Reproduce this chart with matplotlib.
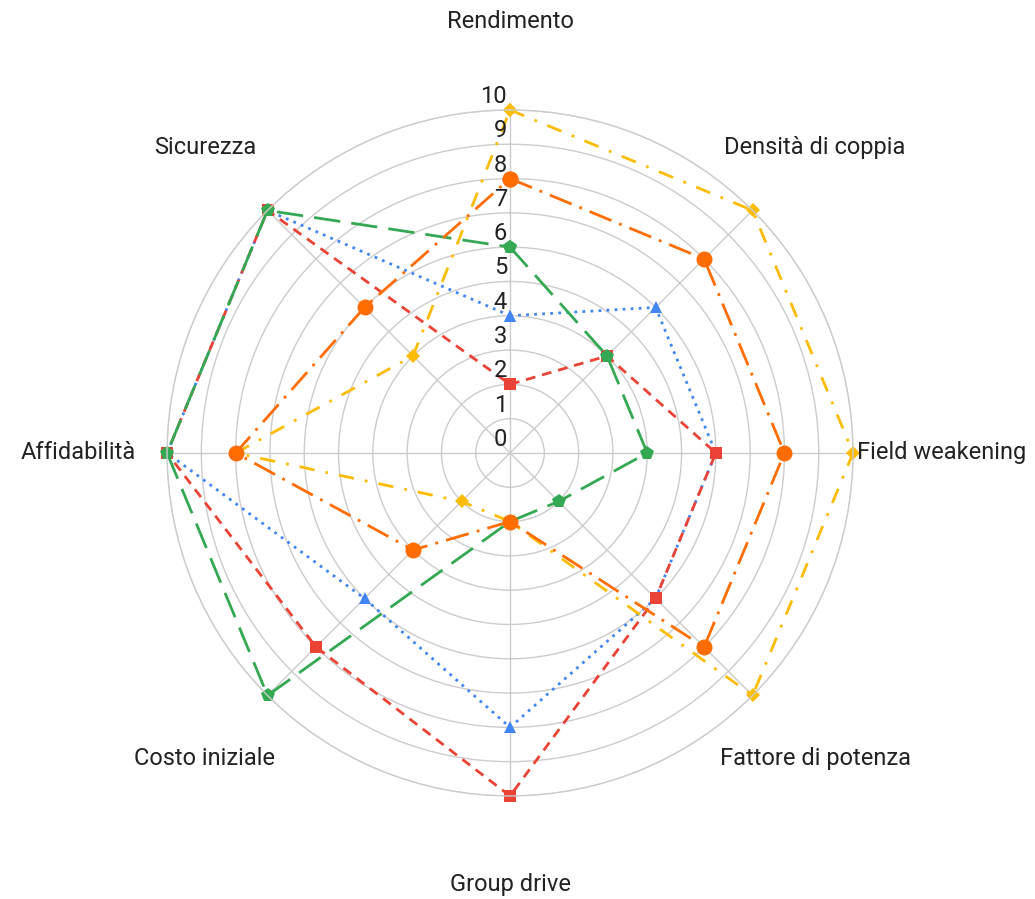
import numpy as np
import matplotlib
matplotlib.use("Agg")
import matplotlib.pyplot as plt
from matplotlib.transforms import offset_copy

plt.rcParams['font.family'] = ['Roboto', 'DejaVu Sans']
plt.rcParams['lines.scale_dashes'] = False

categories = ["Rendimento", "Densità di coppia", "Field weakening", "Fattore di potenza",
              "Group drive", "Costo iniziale", "Affidabilità", "Sicurezza"]

serie_blu = [4, 6, 6, 6, 8, 6, 10, 10]
serie_rossa = [2, 4, 6, 6, 10, 8, 10, 10]
serie_gialla = [10, 10, 10, 10, 2, 2, 8, 4]
serie_verde = [6, 4, 4, 2, 2, 10, 10, 10]
serie_arancio = [8, 8, 8, 8, 2, 4, 8, 6]

ticks = list(range(0, 11))

# colore, marker, dimensione marker, tratteggio
stili = [
    (serie_blu, "#4285F4", "^", 8, (0, (2, 3.8))),
    (serie_rossa, "#EA4335", "s", 8, (0, (7, 5))),
    (serie_gialla, "#FBBC04", "D", 7.3, (0, (11, 8, 2, 8))),
    (serie_verde, "#34A853", "p", 10.5, (0, (19, 8))),
    (serie_arancio, "#FF6D01", "o", 11.5, (0, (17, 6, 2, 6))),
]

fig = plt.figure(figsize=(10.35, 8.99), dpi=100)
ax = fig.add_axes([0.1614, 0.1146, 0.6628, 0.7631], projection="polar")
ax.set_theta_zero_location("N")
ax.set_theta_direction(-1)

n = len(categories)
angoli = np.arange(n) * 2 * np.pi / n
chiuso = np.append(angoli, angoli[0])

ax.set_ylim(0, 10)
ax.set_yticks(ticks[1:])
ax.set_yticklabels([])
ax.set_xticks(angoli)
ax.set_xticklabels([])
ax.grid(True, color="#cccccc", linewidth=1.0)
ax.spines["polar"].set_color("#cccccc")
ax.spines["polar"].set_linewidth(1.0)
ax.tick_params(length=0)

for valori, colore, marker, ms, dash in stili:
    v = np.append(valori, valori[0])
    ax.plot(chiuso, v, color=colore, linestyle=dash, linewidth=2.0,
            marker=marker, markersize=ms, markeredgewidth=0, clip_on=False)

# etichette dell'asse radiale
trans = offset_copy(ax.transData, fig=fig, x=-3, y=7, units="dots")
for t in ticks:
    ax.text(0, t, str(t), transform=trans, ha="right", va="baseline",
            fontsize=17, color="#222222")

# nomi delle categorie
for ang, nome in zip(angoli, categories):
    ax.text(ang, 12.58, nome, ha="center", va="center", fontsize=17,
            color="#222222", clip_on=False)

fig.savefig("out.png", dpi=100, facecolor="white")
